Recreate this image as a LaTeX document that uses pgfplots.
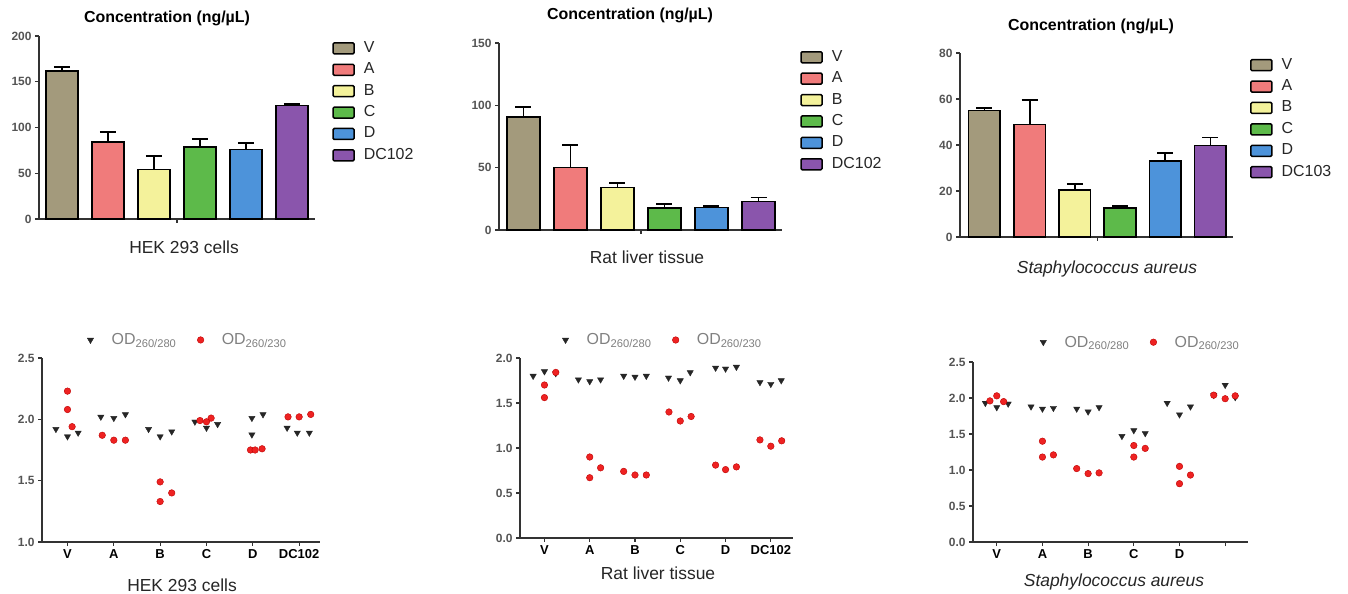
\documentclass[border=0pt]{standalone}
\usepackage{fontspec}
\setmainfont{Liberation Sans}
\usepackage{pgfplots}
\pgfplotsset{compat=1.18}

\definecolor{cV}{HTML}{A39A7C}
\definecolor{cA}{HTML}{F07B7B}
\definecolor{cB}{HTML}{F4F29B}
\definecolor{cC}{HTML}{5DBA4A}
\definecolor{cD}{HTML}{4D93DA}
\definecolor{cE}{HTML}{8A55AC}
\definecolor{axgray}{HTML}{333333}
\definecolor{tickgray}{HTML}{555555}
\definecolor{odred}{HTML}{EE2222}

\pgfplotsset{
  base/.style={scale only axis, anchor=south west, clip=false,
    axis lines=left, axis line style={-, line width=1.4bp, draw=axgray},
    tick align=outside, major tick length=4bp,
    tick style={line width=1.2bp, draw=axgray},
    /pgf/number format/assume math mode=true,
    yticklabel style={font=\bfseries\fontsize{12}{14}\selectfont, text=tickgray},
  },
  barax/.style={base, xmin=-0.5, xmax=5.5, ymin=0,
    xtick={2.5}, xticklabels={},
    legend cell align=left,
    legend style={draw=none, fill=none, inner sep=0pt, anchor=north west,
      font=\fontsize{16}{19}\selectfont, text=black!85, row sep=0pt,
      nodes={inner xsep=0pt, inner ysep=3.2bp, text height=11.5bp, text depth=3.5bp}},
  },
  barsty/.style={ybar, bar width=0.7, bar shift=0pt, fill=#1, draw=black, line width=1.6bp,
    legend image code/.code={\draw[fill=#1, draw=black, line width=1.5bp, rounded corners=1.2bp] (0bp,-5.5bp) rectangle (21bp,5.5bp); \path (30bp,0bp);},
    error bars/.cd, y dir=plus, y explicit, error mark=|,
    error bar style={line width=1.8bp, draw=black},
    error mark options={draw=black, line width=1.8bp, mark size=8bp}},
  odax/.style={base, xtick={0,...,5},
    xticklabel style={font=\bfseries\fontsize{13}{15}\selectfont, text=black},
    yticklabel style={/pgf/number format/fixed, /pgf/number format/fixed zerofill, /pgf/number format/precision=1},
    legend columns=2,
    legend style={draw=none, fill=none, inner sep=0pt, anchor=west,
      font=\fontsize{16}{19}\selectfont, text=black!50,
      nodes={inner sep=0pt},
      /tikz/every even column/.append style={column sep=19bp}},
  },
  odblack/.style={only marks, mark=triangle*, mark size=3.6bp,
    mark options={rotate=180, fill=black!85, draw=black!85},
    legend image code/.code={\path (-5bp,0bp) (21bp,0bp); \draw[##1] plot coordinates {(0bp,0bp)};}},
  odredm/.style={only marks, mark=*, mark size=3.3bp,
    mark options={fill=odred, draw=red!75!black},
    legend image code/.code={\path (-5bp,0bp) (21bp,0bp); \draw[##1] plot coordinates {(0bp,0bp)};}},
}

\newcommand\ttl{\fontsize{16}{19}\selectfont\bfseries Concentration (ng/µL)}
\newcommand\sub{\fontsize{17.5}{20}\selectfont}

\begin{document}
\begin{tikzpicture}
\path[use as bounding box, fill=white] (0,0) rectangle (1348bp,594bp);

% ---- top row: concentration bars ----
\begin{axis}[barax, at={(39bp,375bp)}, width=276bp, height=183bp,
  ymax=200, ytick={0,50,...,200},
  legend style={at={(1.062,0.992)}}]
  \addplot[barsty=cV] coordinates {(0,162) +- (0,4.5)};
  \addplot[barsty=cA] coordinates {(1,84) +- (0,11.5)};
  \addplot[barsty=cB] coordinates {(2,54) +- (0,14.5)};
  \addplot[barsty=cC] coordinates {(3,78.5) +- (0,9)};
  \addplot[barsty=cD] coordinates {(4,76) +- (0,7)};
  \addplot[barsty=cE] coordinates {(5,124) +- (0,1.5)};
  \legend{V,A,B,C,D,DC102}
\end{axis}

\begin{axis}[barax, at={(499bp,364bp)}, width=283bp, height=187bp,
  xmin=-0.52, ymax=150, ytick={0,50,...,150},
  legend style={at={(1.064,0.982)}}]
  \addplot[barsty=cV] coordinates {(0,90.5) +- (0,8)};
  \addplot[barsty=cA] coordinates {(1,50) +- (0,18)};
  \addplot[barsty=cB] coordinates {(2,34) +- (0,4)};
  \addplot[barsty=cC] coordinates {(3,17.5) +- (0,3.5)};
  \addplot[barsty=cD] coordinates {(4,18) +- (0,1.5)};
  \addplot[barsty=cE] coordinates {(5,23) +- (0,3)};
  \legend{V,A,B,C,D,DC102}
\end{axis}

\begin{axis}[barax, at={(960bp,357bp)}, width=273bp, height=184bp,
  xmin=-0.54, ymax=80, ytick={0,20,...,80},
  legend style={at={(1.062,0.993)}}]
  \addplot[barsty=cV] coordinates {(0,55) +- (0,1.2)};
  \addplot[barsty=cA] coordinates {(1,49) +- (0,10.6)};
  \addplot[barsty=cB] coordinates {(2,20.4) +- (0,2.5)};
  \addplot[barsty=cC] coordinates {(3,12.7) +- (0,0.9)};
  \addplot[barsty=cD] coordinates {(4,33) +- (0,3.6)};
  \addplot[barsty=cE] coordinates {(5,39.7) +- (0,3.6)};
  \legend{V,A,B,C,D,DC103}
\end{axis}

\node at (167bp,576bp) {\ttl};
\node at (630bp,579bp) {\ttl};
\node at (1091bp,568bp) {\ttl};
\node[text=black!85] at (184bp,347bp) {\sub HEK 293 cells};
\node[text=black!85] at (647bp,337bp) {\sub Rat liver tissue};
\node[text=black!85] at (1107bp,325bp) {\sub\itshape Staphylococcus aureus};

% ---- bottom row: OD ratios ----
\begin{axis}[odax, at={(42bp,52bp)}, width=278bp, height=184bp,
  xmin=-0.55, xmax=5.45, ymin=1, ymax=2.5, ytick={1,1.5,2,2.5},
  xticklabels={V,A,B,C,D,DC102},
  legend style={at={(0.155,1.098)}}]
  \addplot[odblack] coordinates {
    (-0.25,1.92) (0,1.86) (0.23,1.89)
    (0.72,2.02) (1,2.01) (1.25,2.04)
    (1.75,1.92) (2,1.86) (2.25,1.90)
    (2.75,1.98) (3,1.93) (3.24,1.96)
    (3.98,2.01) (4.22,2.04) (3.98,1.875)
    (4.74,1.93) (4.96,1.89) (5.22,1.89)};
  \addplot[odredm] coordinates {
    (0,2.23) (0,2.08) (0.1,1.94)
    (0.75,1.87) (1,1.83) (1.25,1.83)
    (2,1.49) (2,1.33) (2.25,1.40)
    (2.86,1.99) (3.1,2.01) (3.0,1.98)
    (3.95,1.75) (4.2,1.76) (4.05,1.75)
    (4.76,2.02) (5,2.02) (5.25,2.04)};
  \legend{OD\textsubscript{260/280}, OD\textsubscript{260/230}}
\end{axis}

\begin{axis}[odax, at={(520bp,56bp)}, width=273bp, height=180bp,
  xmin=-0.54, xmax=5.49, ymin=0, ymax=2, ytick={0,0.5,...,2},
  xticklabels={V,A,B,C,D,DC102},
  legend style={at={(0.147,1.10)}}]
  \addplot[odblack] coordinates {
    (-0.25,1.80) (0,1.85) (0.25,1.83)
    (0.75,1.76) (1,1.74) (1.24,1.76)
    (1.75,1.80) (2,1.79) (2.25,1.80)
    (2.74,1.78) (3,1.75) (3.22,1.84)
    (3.78,1.89) (4,1.88) (4.24,1.90)
    (4.76,1.73) (5,1.71) (5.23,1.75)};
  \addplot[odredm] coordinates {
    (0,1.70) (0,1.56) (0.25,1.84)
    (1,0.90) (1,0.67) (1.24,0.78)
    (1.75,0.74) (2,0.70) (2.25,0.70)
    (2.75,1.40) (3,1.30) (3.24,1.35)
    (3.78,0.81) (4,0.76) (4.24,0.79)
    (4.76,1.09) (5,1.02) (5.24,1.08)};
  \legend{OD\textsubscript{260/280}, OD\textsubscript{260/230}}
\end{axis}

\begin{axis}[odax, at={(973bp,52bp)}, width=275bp, height=180bp,
  xmin=-0.52, xmax=5.5, ymin=0, ymax=2.5, ytick={0,0.5,...,2.5},
  xticklabels={V,A,B,C,D,{}},
  legend style={at={(0.236,1.11)}}]
  \addplot[odblack] coordinates {
    (-0.25,1.93) (0,1.87) (0.25,1.92)
    (0.75,1.88) (1,1.85) (1.24,1.86)
    (1.75,1.85) (2,1.81) (2.24,1.87)
    (2.74,1.47) (3,1.55) (3.25,1.51)
    (3.73,1.93) (4,1.77) (4.24,1.88)
    (4.75,2.04) (5,2.18) (5.22,2.01)};
  \addplot[odredm] coordinates {
    (-0.15,1.96) (0,2.03) (0.15,1.95)
    (1,1.40) (1,1.18) (1.24,1.21)
    (1.75,1.02) (2,0.95) (2.24,0.96)
    (3,1.34) (3,1.18) (3.25,1.30)
    (4,1.05) (4,0.81) (4.24,0.93)
    (4.75,2.04) (5,1.99) (5.22,2.03)};
  \legend{OD\textsubscript{260/280}, OD\textsubscript{260/230}}
\end{axis}

\node[text=black!85] at (182bp,9bp) {\sub HEK 293 cells};
\node[text=black!85] at (658bp,21bp) {\sub Rat liver tissue};
\node[text=black!85] at (1114bp,12bp) {\sub\itshape Staphylococcus aureus};
\end{tikzpicture}
\end{document}
